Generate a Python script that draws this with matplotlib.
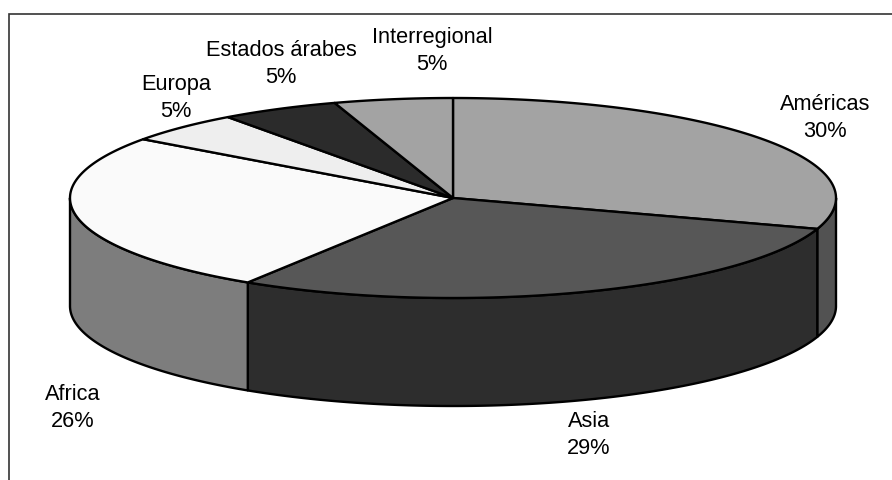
import numpy as np
import matplotlib
matplotlib.use("Agg")
import matplotlib.pyplot as plt
from matplotlib.patches import Polygon

regiones = ["Américas", "Asia", "Africa", "Europa", "Estados árabes", "Interregional"]
porcentajes = [30, 29, 26, 5, 5, 5]
color_arriba = ["#a3a3a3", "#575757", "#fafafa", "#eeeeee", "#2b2b2b", "#a3a3a3"]
color_lado = ["#525252", "#2d2d2d", "#7d7d7d", "#777777", "#151515", "#525252"]
pos_etiquetas = [(825, 118), (589, 435), (73, 408), (176, 98), (281, 64), (432, 51)]

# geometria del pastel en pixeles
cx, cy = 453, 198
rx, ry = 383, 100
prof = 108
lw = 1.7

plt.rcParams["font.family"] = ["Liberation Sans", "DejaVu Sans"]
fig = plt.figure(figsize=(8.92, 4.80), dpi=100)
ax = fig.add_axes([0, 0, 1, 1])
ax.set_xlim(0, 892)
ax.set_ylim(480, 0)
ax.axis("off")

# marco: solo arriba y a la izquierda
ax.plot([8.5, 8.5, 892], [480, 14, 14], color="#333333", lw=1.2, solid_joinstyle="miter")


def arco(a1, a2, dy=0):
    # angulos en grados, desde arriba en sentido horario
    t = np.radians(np.linspace(a1, a2, 200))
    return np.column_stack([cx + rx * np.sin(t), cy - ry * np.cos(t) + dy])


bordes = np.cumsum([0] + porcentajes) * 3.6

# primero los lados visibles, solo la mitad delantera
for i in range(len(regiones)):
    a1 = max(bordes[i], 90)
    a2 = min(bordes[i + 1], 270)
    if a2 <= a1:
        continue
    pts = np.vstack([arco(a1, a2), arco(a1, a2, prof)[::-1]])
    ax.add_patch(Polygon(pts, closed=True, fc=color_lado[i], ec="black", lw=lw, joinstyle="round"))

# luego la cara superior
for i in range(len(regiones)):
    pts = np.vstack([[(cx, cy)], arco(bordes[i], bordes[i + 1])])
    ax.add_patch(Polygon(pts, closed=True, fc=color_arriba[i], ec="black", lw=lw, joinstyle="round"))

for nombre, valor, (x, y) in zip(regiones, porcentajes, pos_etiquetas):
    ax.text(x, y, f"{nombre}\n{valor}%", ha="center", va="center", fontsize=15.7,
            linespacing=1.39, color="black")

fig.savefig("out.png", dpi=100)
